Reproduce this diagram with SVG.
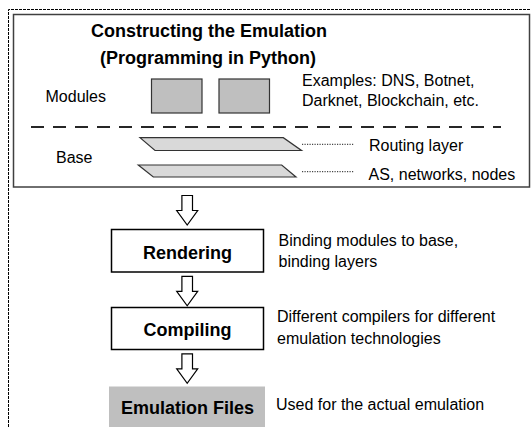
<svg xmlns="http://www.w3.org/2000/svg" width="531" height="427" viewBox="0 0 531 427">
<style>
  text { font-family: "Liberation Sans", Arial, sans-serif; fill: #000; }
  .t { font-size: 16px; }
  .b { font-size: 18px; font-weight: bold; }
  .box { fill: #fff; stroke: #000; stroke-width: 1.5; }
  .mod { fill: #bfbfbf; stroke: #333; stroke-width: 1.2; }
  .layer { fill: #d9d9d9; stroke: #333; stroke-width: 1.2; }
  .lead { stroke: #1a1a1a; stroke-width: 1; stroke-dasharray: 1.2 1.3; fill: none; }
  .arrow { fill: #fff; stroke: #000; stroke-width: 1.2; stroke-linejoin: miter; }
</style>
<defs>
  <path id="blk" d="M-5.3,0 H5.3 V15 H10.5 L0,29.5 L-10.5,15 H-5.3 Z"/>
</defs>
<rect width="531" height="427" fill="#fff"/>
<path d="M8.5,427 V9.5 H531" fill="none" stroke="#000" stroke-width="1" stroke-dasharray="3 1"/>

<g id="construct">
  <rect x="13.5" y="14.5" width="516" height="172.5" fill="#fff" stroke="#404040" stroke-width="1.5"/>
  <text class="b" x="209" y="36.5" text-anchor="middle">Constructing the Emulation</text>
  <text class="b" x="208" y="64" text-anchor="middle">(Programming in Python)</text>
  <line x1="31" y1="127" x2="501" y2="127" stroke="#262626" stroke-width="1.8" stroke-dasharray="13 9"/>
</g>

<g id="modules">
  <text class="t" x="45.5" y="101.5">Modules</text>
  <rect class="mod" x="151.5" y="79" width="50.5" height="34"/>
  <rect class="mod" x="219" y="79" width="50.5" height="34"/>
  <text class="t" x="302" y="85.5">Examples: DNS, Botnet,</text>
  <text class="t" x="302" y="105.5">Darknet, Blockchain, etc.</text>
</g>

<g id="base">
  <text class="t" x="56" y="162.5">Base</text>
  <polygon class="layer" points="140,137.7 283.3,137.7 301.5,150.5 155,150.5"/>
  <polygon class="layer" points="138.3,165 281.7,165 296,177 153.3,177"/>
  <text class="t" x="369" y="150.7">Routing layer</text>
  <text class="t" x="368.5" y="179.5">AS, networks, nodes</text>
</g>

<g id="connectors">
  <line class="lead" x1="302" y1="144.3" x2="354" y2="144.3"/>
  <line class="lead" x1="302" y1="171.7" x2="354" y2="171.7"/>
  <use href="#blk" class="arrow" transform="translate(187.2,195.5)"/>
  <use href="#blk" class="arrow" transform="translate(187.2,276.3)"/>
  <use href="#blk" class="arrow" transform="translate(187.2,353.8)"/>
</g>

<g id="rendering">
  <rect class="box" x="111.5" y="229.5" width="152" height="42.5"/>
  <text class="b" x="187.5" y="258.5" text-anchor="middle">Rendering</text>
  <text class="t" x="278.5" y="246">Binding modules to base,</text>
  <text class="t" x="278.5" y="266.5">binding layers</text>
</g>

<g id="compiling">
  <rect class="box" x="111.5" y="307.5" width="152" height="42"/>
  <text class="b" x="187.5" y="335.8" text-anchor="middle">Compiling</text>
  <text class="t" x="277" y="322">Different compilers for different</text>
  <text class="t" x="277" y="344">emulation technologies</text>
</g>

<g id="emulation-files">
  <rect x="109" y="386.5" width="156" height="42" fill="#bfbfbf"/>
  <text class="b" x="187.5" y="413.7" text-anchor="middle">Emulation Files</text>
  <text class="t" x="276" y="410">Used for the actual emulation</text>
</g>
</svg>
